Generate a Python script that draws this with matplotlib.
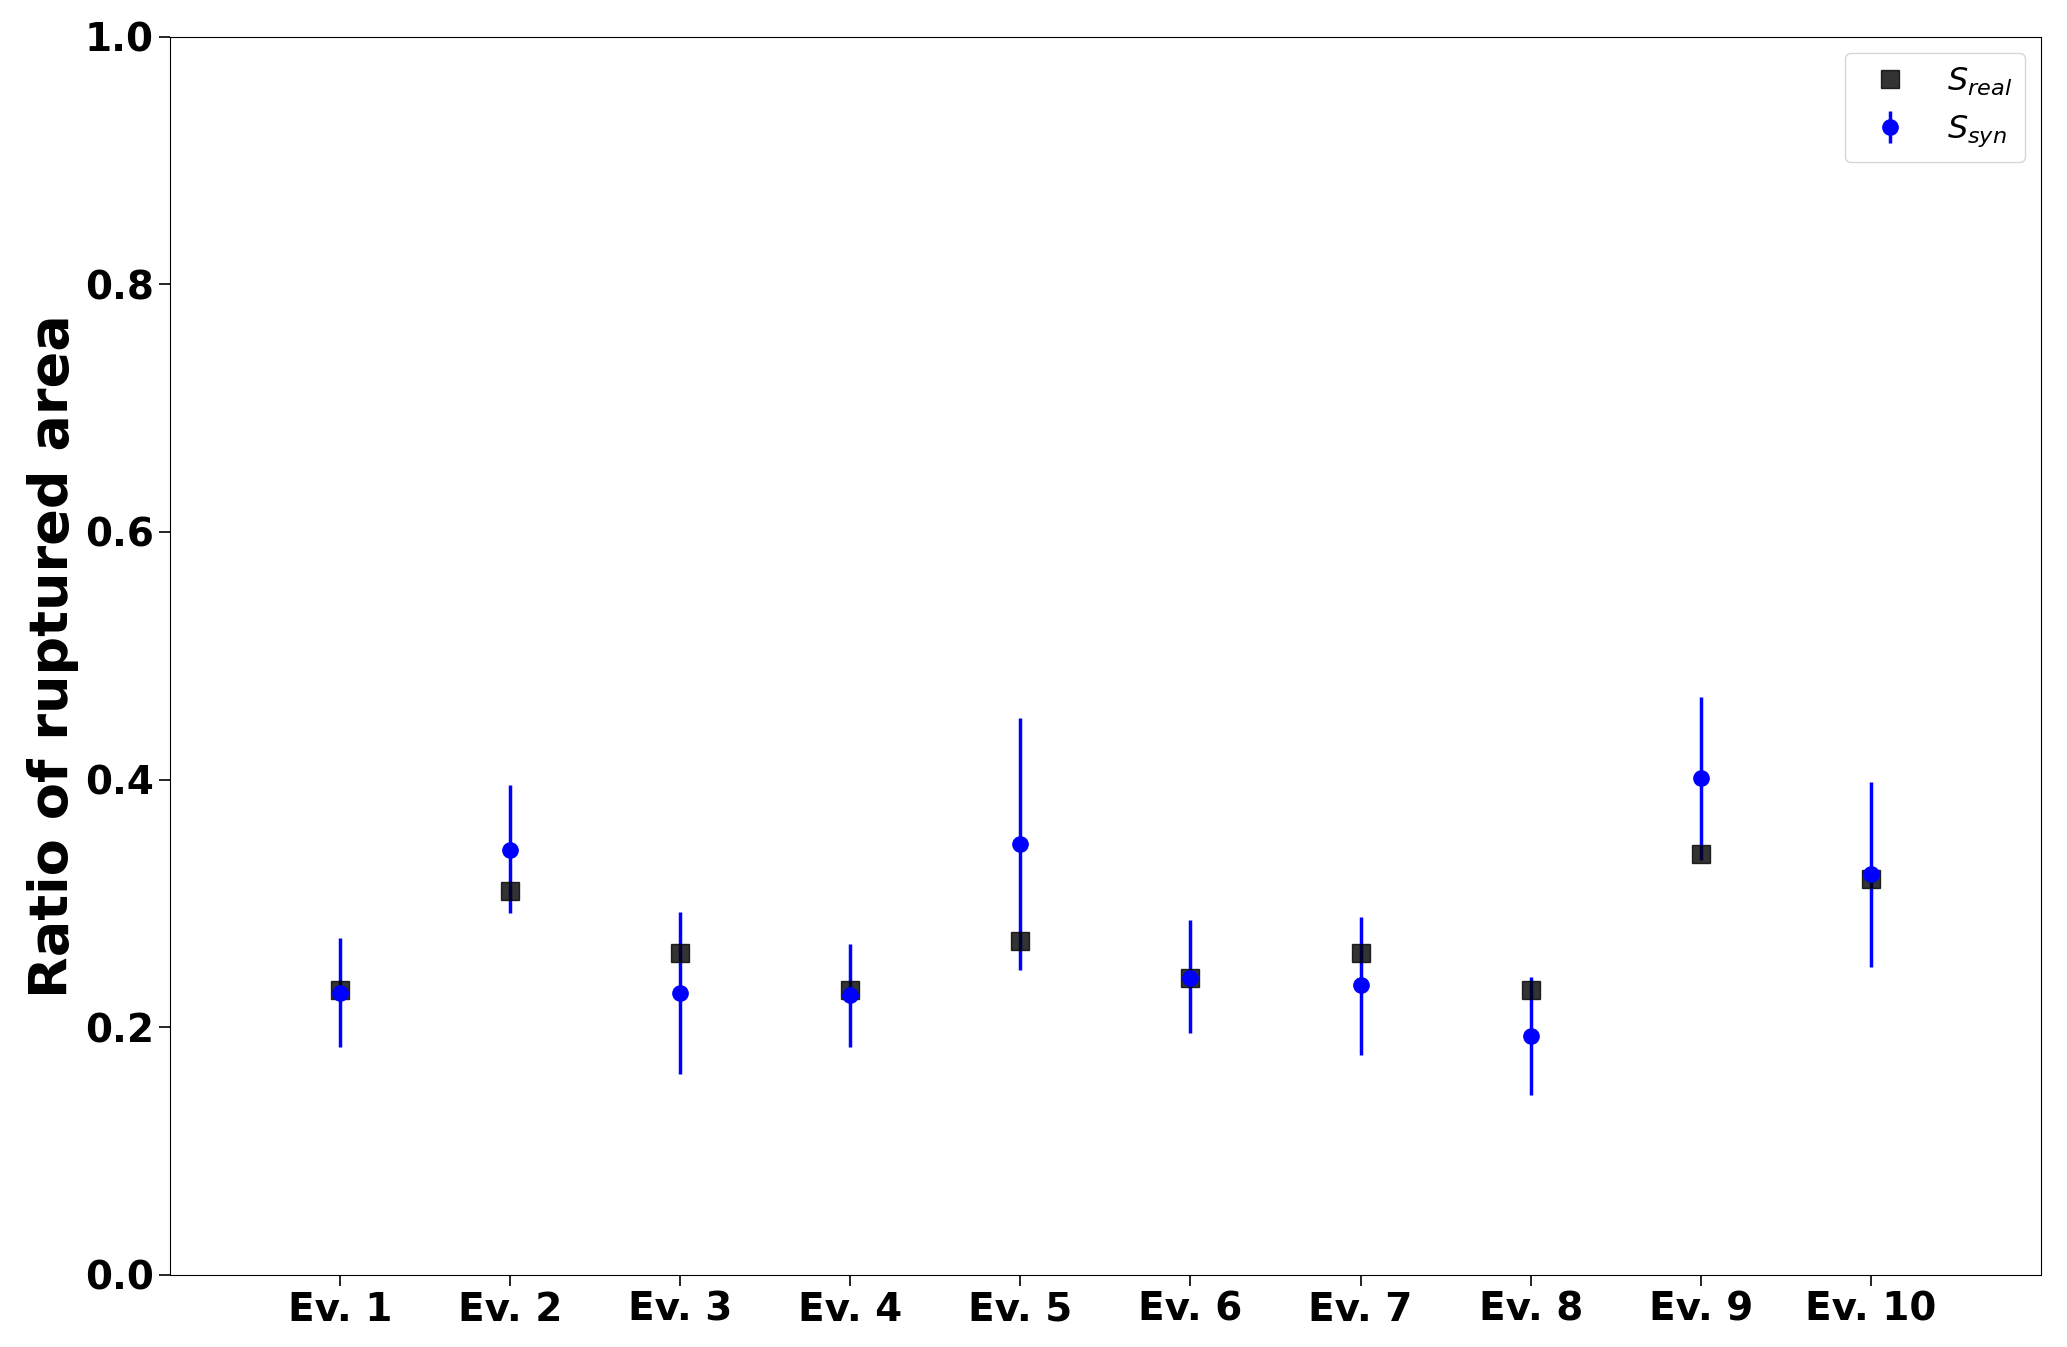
import numpy as np
import matplotlib
matplotlib.use("Agg")
import matplotlib.pyplot as plt

events = ["Ev. 1", "Ev. 2", "Ev. 3", "Ev. 4", "Ev. 5",
          "Ev. 6", "Ev. 7", "Ev. 8", "Ev. 9", "Ev. 10"]
s_real = [0.23, 0.31, 0.26, 0.23, 0.27, 0.24, 0.26, 0.23, 0.34, 0.32]
s_syn = [0.228, 0.343, 0.228, 0.226, 0.348, 0.240, 0.234, 0.193, 0.401, 0.324]
s_syn_low = [0.184, 0.292, 0.162, 0.184, 0.246, 0.195, 0.178, 0.145, 0.335, 0.249]
s_syn_high = [0.272, 0.396, 0.293, 0.267, 0.450, 0.287, 0.289, 0.241, 0.467, 0.398]

x = np.arange(1, len(events) + 1)
s_syn = np.array(s_syn)
yerr = [s_syn - np.array(s_syn_low), np.array(s_syn_high) - s_syn]

fig = plt.figure(figsize=(20.67, 13.47), dpi=100)
ax = fig.add_axes([0.0822, 0.0535, 0.9052, 0.9193])

ax.plot(x, s_real, "s", color="black", alpha=0.8, markersize=13,
        label="$S_{real}$", zorder=2)
eb = ax.errorbar(x, s_syn, yerr=yerr, fmt="o", color="blue", ecolor="blue",
                 elinewidth=2.5, markersize=11, label="$S_{syn}$", zorder=3)
eb.lines[2][0].set_zorder(1.5)

ax.set_xlim(0, 11)
ax.set_ylim(0, 1.0)
ax.set_xticks(x)
ax.set_xticklabels(events)
ax.set_yticks([0.0, 0.2, 0.4, 0.6, 0.8, 1.0])
for lab in ax.get_xticklabels() + ax.get_yticklabels():
    lab.set_fontsize(28)
    lab.set_fontweight("bold")
ax.tick_params(length=8, width=1.2)
ax.set_ylabel("Ratio of ruptured area", fontsize=39, fontweight="bold")
ax.legend(loc="upper right", fontsize=23)

fig.savefig("out.png", dpi=100)
